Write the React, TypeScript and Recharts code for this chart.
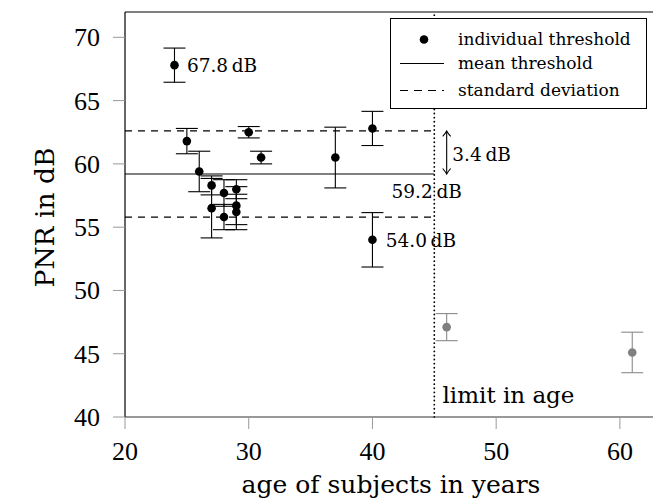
import React from 'react';
import { ScatterChart, Scatter, XAxis, YAxis, ErrorBar, ReferenceLine, ReferenceDot } from 'recharts';

// ---- data ----
const ages = [24, 25, 26, 27, 27, 28, 28, 29, 29, 29, 30, 31, 37, 40, 40];
const pnrValues = [67.8, 61.8, 59.4, 58.3, 56.5, 57.7, 55.8, 58.0, 56.7, 56.2, 62.5, 60.5, 60.5, 62.8, 54.0];
const pnrErrors = [1.35, 1.0, 1.6, 0.75, 2.35, 1.05, 1.0, 0.75, 1.5, 1.4, 0.45, 0.5, 2.4, 1.35, 2.15];
const olderAges = [46, 61];
const olderPnr = [47.1, 45.1];
const olderErrors = [1.07, 1.6];
const meanValue = 59.2;
const stdValue = 3.4;
const ageLimit = 45;
const xTicks = [20, 30, 40, 50, 60];
const yTicks = [40, 45, 50, 55, 60, 65, 70];
const xDomain = [20, 63];
const yDomain = [40, 72];
const legendLabels = ['individual threshold', 'mean threshold', 'standard deviation'];
const xTitle = 'age of subjects in years';
const yTitle = 'PNR in dB';
const limitLabel = 'limit in age';

const mainData = ages.map((a, i) => ({ age: a, pnr: pnrValues[i], err: pnrErrors[i] }));
const olderData = olderAges.map((a, i) => ({ age: a, pnr: olderPnr[i], err: olderErrors[i] }));
const maxIdx = pnrValues.indexOf(Math.max(...pnrValues));
const minIdx = pnrValues.indexOf(Math.min(...pnrValues));
const upper = +(meanValue + stdValue).toFixed(1);
const lower = +(meanValue - stdValue).toFixed(1);

const WORD_FONT = "'DejaVu Serif'";
const NUM_FONT = "'Liberation Serif'";
const dB = (v: number) => `${v.toFixed(1)}\u2009dB`;

const XTick = (p: any) => (
  <text x={p.x} y={p.y} dy={29} textAnchor="middle" style={{ fontFamily: NUM_FONT, fontSize: 26 }} fill="#000">
    {p.payload.value}
  </text>
);
const YTick = (p: any) => (
  <text x={p.x} y={p.y} dx={-11} dy={9} textAnchor="end" style={{ fontFamily: NUM_FONT, fontSize: 26 }} fill="#000">
    {p.payload.value}
  </text>
);

const Dot = (color: string) => (p: any) => <circle cx={p.cx} cy={p.cy} r={4.3} fill={color} />;

const textAt = (label: string, dx: number, dy: number, size: number, anchor = 'start') => (p: any) => (
  <text x={p.cx + dx} y={p.cy + dy} textAnchor={anchor} style={{ fontFamily: WORD_FONT, fontSize: size }} fill="#000">
    {label}
  </text>
);

const DoubleArrow = (p: any) => {
  const x = p.x1;
  const top = Math.min(p.y1, p.y2);
  const bot = Math.max(p.y1, p.y2);
  return (
    <g stroke="#000" strokeWidth={1.1} fill="none">
      <line x1={x} y1={top} x2={x} y2={bot} />
      <path d={`M${x - 4},${top + 5.5} Q${x - 1},${top + 2} ${x},${top} Q${x + 1},${top + 2} ${x + 4},${top + 5.5}`} />
      <path d={`M${x - 4},${bot - 5.5} Q${x - 1},${bot - 2} ${x},${bot} Q${x + 1},${bot - 2} ${x + 4},${bot - 5.5}`} />
    </g>
  );
};

const Legend = () => (
  <div
    style={{
      position: 'absolute',
      left: 390,
      top: 18,
      width: 255,
      height: 89,
      border: '1px solid #000',
      background: '#fff',
    }}
  >
    <svg width={255} height={89}>
      <circle cx={33} cy={20.5} r={4.3} fill="#000" />
      <line x1={9} y1={44.5} x2={53} y2={44.5} stroke="#000" strokeWidth={1} />
      <line x1={9} y1={71.5} x2={53} y2={71.5} stroke="#000" strokeWidth={1} strokeDasharray="8 6" />
      {legendLabels.map((l, i) => (
        <text key={l} x={67} y={[20.5, 45, 71.5][i] + 5} style={{ fontFamily: WORD_FONT, fontSize: 17 }} fill="#000">
          {l}
        </text>
      ))}
    </svg>
  </div>
);

export default function App() {
  return (
    <div style={{ position: 'absolute', left: 0, top: 0, width: 653, height: 499, overflow: 'hidden', background: '#fff' }}>
      <ScatterChart width={670} height={499} margin={{ top: 12, right: 13, bottom: 22, left: 0 }}>
        <XAxis
          type="number"
          dataKey="age"
          domain={xDomain}
          ticks={xTicks}
          allowDataOverflow
          height={60}
          axisLine={{ stroke: '#333', strokeWidth: 1.2 }}
          tickLine={{ stroke: '#999', strokeWidth: 1 }}
          tickSize={12}
          tick={<XTick />}
          label={(p: any) => {
            const vb = p.viewBox;
            return (
              <text x={vb.x + vb.width / 2} y={vb.y + 76} textAnchor="middle" style={{ fontFamily: WORD_FONT, fontSize: 25 }} fill="#000">
                {xTitle}
              </text>
            );
          }}
        />
        <YAxis
          type="number"
          dataKey="pnr"
          domain={yDomain}
          ticks={yTicks}
          allowDataOverflow
          width={125}
          axisLine={{ stroke: '#000', strokeWidth: 1.2 }}
          tickLine={{ stroke: '#999', strokeWidth: 1 }}
          tickSize={12}
          tick={<YTick />}
          label={(p: any) => {
            const vb = p.viewBox;
            const cy = vb.y + vb.height / 2 + 3;
            return (
              <text
                x={54}
                y={cy}
                transform={`rotate(-90, 54, ${cy})`}
                textAnchor="middle"
                style={{ fontFamily: WORD_FONT, fontSize: 26.5 }}
                fill="#000"
              >
                {yTitle}
              </text>
            );
          }}
        />
        <ReferenceLine y={yDomain[1]} stroke="#000" strokeWidth={1.2} />
        <ReferenceLine
          segment={[{ x: xDomain[0], y: meanValue }, { x: ageLimit, y: meanValue }]}
          stroke="#000"
          strokeWidth={1.2}
        />
        <ReferenceLine
          segment={[{ x: xDomain[0], y: upper }, { x: ageLimit, y: upper }]}
          stroke="#000"
          strokeWidth={1.2}
          strokeDasharray="7 6"
        />
        <ReferenceLine
          segment={[{ x: xDomain[0], y: lower }, { x: ageLimit, y: lower }]}
          stroke="#000"
          strokeWidth={1.2}
          strokeDasharray="7 6"
        />
        <ReferenceLine
          x={ageLimit}
          stroke="#000"
          strokeWidth={1.8}
          strokeDasharray="0.1 4"
          strokeLinecap="round"
        />
        <ReferenceLine
          segment={[{ x: 46, y: upper }, { x: 46, y: meanValue }]}
          shape={DoubleArrow}
        />
        <Scatter data={mainData} fill="#000" shape={Dot('#000')} isAnimationActive={false}>
          <ErrorBar dataKey="err" direction="y" width={11} stroke="#000" strokeWidth={1.1} />
        </Scatter>
        <Scatter data={olderData} fill="#808080" shape={Dot('#808080')} isAnimationActive={false}>
          <ErrorBar dataKey="err" direction="y" width={11} stroke="#8a8a8a" strokeWidth={1.1} />
        </Scatter>
        <ReferenceDot x={ages[maxIdx]} y={pnrValues[maxIdx]} r={0} shape={textAt(dB(pnrValues[maxIdx]), 12.4, 6.8, 18.5)} />
        <ReferenceDot x={ages[minIdx]} y={pnrValues[minIdx]} r={0} shape={textAt(dB(pnrValues[minIdx]), 13.3, 7, 18.5)} />
        <ReferenceDot x={ageLimit} y={meanValue} r={0} shape={textAt(dB(meanValue), -42.8, 24, 18.5)} />
        <ReferenceDot x={46} y={(upper + meanValue) / 2} r={0} shape={textAt(dB(stdValue), 5.6, 8.8, 18.5)} />
        <ReferenceDot x={ageLimit} y={yDomain[0]} r={0} shape={textAt(limitLabel, 8.2, -14, 23)} />
      </ScatterChart>
      <Legend />
    </div>
  );
}
